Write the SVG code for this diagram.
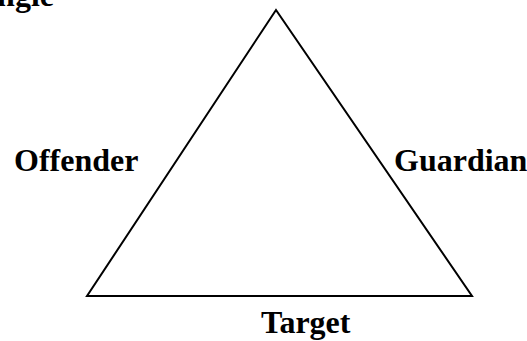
<svg xmlns="http://www.w3.org/2000/svg" width="527" height="341" viewBox="0 0 527 341">
<style>
.lbl{font-family:"Liberation Serif","Times New Roman",serif;font-weight:bold;font-size:32px;fill:#000}
.edge{fill:none;stroke:#000;stroke-width:2;stroke-linejoin:miter}
</style>
<rect width="527" height="341" fill="#fff"/>
<text class="lbl" x="54" y="6" text-anchor="end">ngle</text>
<g id="connectors">
<polygon class="edge" points="276,10 87,296 472,296"/>
</g>
<g id="offender"><text class="lbl" x="14" y="171">Offender</text></g>
<g id="guardian"><text class="lbl" x="394" y="171">Guardian</text></g>
<g id="target"><text class="lbl" x="261" y="333">Target</text></g>
</svg>
